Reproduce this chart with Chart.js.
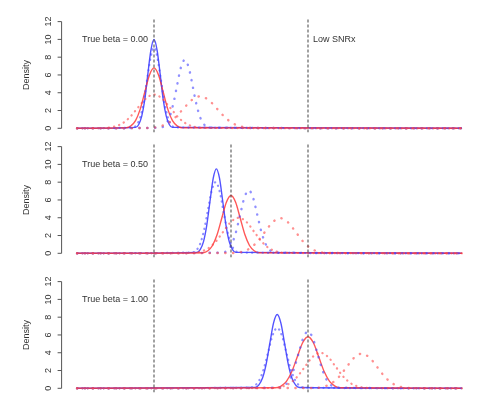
<!DOCTYPE html>
<html>
<head>
<meta charset="utf-8">
<script src="https://cdn.jsdelivr.net/npm/chart.js@4/dist/chart.umd.min.js"></script>
<style>
  html, body { margin: 0; padding: 0; background: #fff; }
  #wrap { position: relative; width: 500px; height: 406px; }
  canvas { position: absolute; left: 0; }
</style>
</head>
<body>
<div id="wrap">
  <canvas id="c1" width="500" height="135" style="top:0"></canvas>
  <canvas id="c2" width="500" height="135" style="top:135px"></canvas>
  <canvas id="c3" width="500" height="136" style="top:270px"></canvas>
</div>
<script>
/* three stacked density panels, R-style */

const yTicks = [0, 2, 4, 6, 8, 10, 12];
const panelLabels = ['True beta = 0.00', 'True beta = 0.50', 'True beta = 1.00'];
const refLines = [[0, 1], [0, 0.5, 1], [0, 1]];
const noteText = 'Low SNRx';
const yTitle = 'Density';

// panel 1 (true beta = 0)
const p1BlueSolid = [[-0.5,0],[-0.12,0.1],[-0.1,0.4],[-0.08,1.35],[-0.06,3.2],[-0.04,6.1],[-0.02,8.8],[0,10],[0.02,8.8],[0.04,6.1],[0.06,3.2],[0.08,1.35],[0.1,0.4],[0.12,0.1],[2,0]];
const p1BlueDash = [[-0.5,0],[-0.135,0.1],[-0.11,0.45],[-0.09,1.22],[-0.07,2.68],[-0.045,5.46],[-0.02,8.15],[0,9.1],[0.02,8.15],[0.045,5.46],[0.07,2.68],[0.09,1.22],[0.11,0.45],[0.135,0.1],[2,0]];
const p1BlueDot = [[-0.5,0],[0.04,0.07],[0.07,0.34],[0.1,1.22],[0.13,3.11],[0.15,4.85],[0.175,6.86],[0.2,7.7],[0.225,6.86],[0.25,4.85],[0.27,3.11],[0.3,1.22],[0.33,0.34],[0.36,0.07],[2,0]];
const p1RedSolid = [[-0.5,0],[-0.18,0.06],[-0.15,0.27],[-0.12,0.86],[-0.09,2.13],[-0.06,4.05],[-0.03,5.98],[0,6.8],[0.03,5.98],[0.06,4.05],[0.09,2.13],[0.12,0.86],[0.15,0.27],[0.18,0.06],[2,0]];
const p1RedDash = [[-0.5,0],[-0.32,0.04],[-0.26,0.18],[-0.21,0.51],[-0.16,1.19],[-0.105,2.31],[-0.05,3.39],[0,3.8],[0.05,3.39],[0.105,2.31],[0.16,1.19],[0.21,0.51],[0.26,0.18],[0.32,0.04],[2,0]];
const p1RedDot = [[-0.5,0],[-0.03,0.04],[0.025,0.16],[0.08,0.49],[0.135,1.17],[0.19,2.18],[0.245,3.18],[0.3,3.6],[0.355,3.18],[0.41,2.18],[0.465,1.17],[0.52,0.49],[0.575,0.16],[0.63,0.04],[2,0]];

// panel 2 (true beta = 0.5)
const p2BlueSolid = [[-0.5,0],[0.279,0.1],[0.3,0.42],[0.321,1.29],[0.342,3.09],[0.363,5.77],[0.385,8.48],[0.405,9.5],[0.425,8.48],[0.447,5.77],[0.468,3.09],[0.489,1.29],[0.51,0.42],[0.531,0.1],[2,0]];
const p2BlueDash = [[-0.5,0],[0.25,0.09],[0.275,0.35],[0.3,1.08],[0.325,2.6],[0.35,4.85],[0.375,7.06],[0.4,8.0],[0.425,7.06],[0.45,4.85],[0.475,2.6],[0.5,1.08],[0.525,0.35],[0.55,0.09],[2,0]];
const p2BlueDot = [[-0.5,0],[0.447,0.08],[0.475,0.31],[0.503,0.96],[0.531,2.31],[0.559,4.31],[0.587,6.27],[0.615,7.1],[0.643,6.27],[0.671,4.31],[0.699,2.31],[0.727,0.96],[0.755,0.31],[0.783,0.08],[2,0]];
const p2RedSolid = [[-0.5,0],[0.32,0.07],[0.35,0.29],[0.38,0.88],[0.41,2.11],[0.44,3.94],[0.47,5.74],[0.5,6.5],[0.53,5.74],[0.56,3.94],[0.59,2.11],[0.62,0.88],[0.65,0.29],[0.68,0.07],[2,0]];
const p2RedDash = [[-0.5,0],[0.25,0.04],[0.3,0.18],[0.35,0.54],[0.4,1.3],[0.45,2.43],[0.5,3.53],[0.55,4.0],[0.6,3.53],[0.65,2.43],[0.7,1.3],[0.75,0.54],[0.8,0.18],[0.85,0.04],[2,0]];
const p2RedDot = [[-0.5,0],[0.52,0.04],[0.57,0.17],[0.62,0.53],[0.67,1.28],[0.72,2.4],[0.77,3.49],[0.82,3.95],[0.87,3.49],[0.92,2.4],[0.97,1.28],[1.02,0.53],[1.07,0.17],[1.12,0.04],[2,0]];

// panel 3 (true beta = 1)
const p3BlueSolid = [[-0.5,0],[0.656,0.09],[0.68,0.36],[0.704,1.12],[0.728,2.7],[0.752,5.04],[0.776,7.33],[0.8,8.3],[0.824,7.33],[0.848,5.04],[0.872,2.7],[0.896,1.12],[0.92,0.36],[0.944,0.09],[2,0]];
const p3BlueDash = [[-0.5,0],[0.626,0.075],[0.655,0.3],[0.684,0.92],[0.713,2.21],[0.742,4.13],[0.771,6.0],[0.8,6.8],[0.829,6.0],[0.858,4.13],[0.887,2.21],[0.916,0.92],[0.945,0.3],[0.974,0.075],[2,0]];
const p3BlueDot = [[-0.5,0],[0.814,0.07],[0.845,0.28],[0.876,0.86],[0.907,2.08],[0.938,3.88],[0.969,5.65],[1,6.4],[1.031,5.65],[1.062,3.88],[1.093,2.08],[1.124,0.86],[1.155,0.28],[1.186,0.07],[2,0]];
const p3RedSolid = [[-0.5,0],[0.79,0.06],[0.825,0.25],[0.86,0.78],[0.895,1.88],[0.93,3.52],[0.965,5.12],[1,5.8],[1.035,5.12],[1.07,3.52],[1.105,1.88],[1.14,0.78],[1.175,0.25],[1.21,0.06],[2,0]];
const p3RedDash = [[-0.5,0],[0.78,0.04],[0.83,0.18],[0.88,0.54],[0.93,1.3],[0.98,2.43],[1.03,3.53],[1.08,4.0],[1.13,3.53],[1.18,2.43],[1.23,1.3],[1.28,0.54],[1.33,0.18],[1.38,0.04],[2,0]];
const p3RedDot = [[-0.5,0],[1.05,0.04],[1.1,0.17],[1.15,0.53],[1.2,1.27],[1.25,2.37],[1.3,3.44],[1.35,3.9],[1.4,3.44],[1.45,2.37],[1.5,1.27],[1.55,0.53],[1.6,0.17],[1.65,0.04],[2,0]];

const BLUE = 'rgba(40,40,255,0.8)';
const RED = 'rgba(255,45,45,0.8)';
const BLUE_LT = 'rgba(70,70,255,0.6)';
const RED_LT = 'rgba(255,70,70,0.6)';
const FONT = "'Liberation Sans', Arial, sans-serif";

const styles = {
  solid: { borderWidth: 1.4, borderDash: [] },
  dash:  { borderWidth: 2.2, borderDash: [0.3, 5], borderCapStyle: 'round' },
  dot:   { borderWidth: 2.4, borderDash: [0.3, 7.5], borderCapStyle: 'round' },
};

function curve(pts, color, kind) {
  return Object.assign({
    data: pts.map(p => ({ x: p[0], y: p[1] })),
    borderColor: color,
    pointRadius: 0,
    fill: false,
    cubicInterpolationMode: 'monotone',
  }, styles[kind]);
}

function vline(x) {
  return {
    data: [{ x: x, y: -0.48 }, { x: x, y: 12.3 }],
    borderColor: 'rgba(70,70,70,0.85)',
    borderWidth: 1.2,
    borderDash: [3, 2],
    pointRadius: 0,
  };
}

// R-like left axis + panel text
const rAxis = {
  id: 'rAxis',
  afterDraw(chart, args, o) {
    const { ctx, chartArea } = chart;
    const xs = chart.scales.x, ys = chart.scales.y;
    const left = chartArea.left;
    ctx.save();
    ctx.strokeStyle = '#555';
    ctx.lineWidth = 1;
    ctx.beginPath();
    ctx.moveTo(left, ys.getPixelForValue(yTicks[0]));
    ctx.lineTo(left, ys.getPixelForValue(yTicks[yTicks.length - 1]));
    yTicks.forEach(t => {
      const py = ys.getPixelForValue(t);
      ctx.moveTo(left - 4, py);
      ctx.lineTo(left, py);
    });
    ctx.stroke();

    ctx.fillStyle = '#333';
    ctx.font = '9px ' + FONT;
    ctx.textAlign = 'center';
    ctx.textBaseline = 'middle';
    yTicks.forEach(t => {
      ctx.save();
      ctx.translate(left - 13.5, ys.getPixelForValue(t));
      ctx.rotate(-Math.PI / 2);
      ctx.fillText(String(t), 0, 0);
      ctx.restore();
    });
    ctx.save();
    ctx.translate(left - 35, (chartArea.top + chartArea.bottom) / 2);
    ctx.rotate(-Math.PI / 2);
    ctx.fillText(yTitle, 0, 0);
    ctx.restore();

    ctx.textAlign = 'right';
    ctx.fillText(o.label, xs.getPixelForValue(0) - 6, ys.getPixelForValue(10));
    if (o.note) {
      ctx.textAlign = 'left';
      ctx.fillText(o.note, xs.getPixelForValue(1) + 5, ys.getPixelForValue(10));
    }
    ctx.restore();
  }
};

function makePanel(id, curves, lines, label, note, pad) {
  const datasets = lines.map(vline).concat(curves);
  return new Chart(document.getElementById(id), {
    type: 'line',
    data: { datasets },
    options: {
      responsive: false,
      animation: false,
      layout: { padding: pad },
      plugins: { legend: { display: false }, tooltip: { enabled: false }, rAxis: { label, note } },
      scales: {
        x: { type: 'linear', min: -0.6, max: 2.1, display: false },
        y: { type: 'linear', min: -0.48, max: 12.48, display: false },
      },
    },
    plugins: [rAxis],
  });
}

function panelCurves(bs, bd, bt, rs, rd, rt) {
  return [
    curve(rd, RED_LT, 'dash'), curve(rt, RED_LT, 'dot'),
    curve(bt, BLUE_LT, 'dot'), curve(bd, BLUE_LT, 'dash'),
    curve(rs, RED, 'solid'), curve(bs, BLUE, 'solid'),
  ];
}

makePanel('c1', panelCurves(p1BlueSolid, p1BlueDash, p1BlueDot, p1RedSolid, p1RedDash, p1RedDot),
  refLines[0], panelLabels[0], noteText, { left: 61.6, right: 22.6, top: 17.35, bottom: 2.43 });
makePanel('c2', panelCurves(p2BlueSolid, p2BlueDash, p2BlueDot, p2RedSolid, p2RedDash, p2RedDot),
  refLines[1], panelLabels[1], null, { left: 61.6, right: 22.6, top: 7.35, bottom: 12.43 });
makePanel('c3', panelCurves(p3BlueSolid, p3BlueDash, p3BlueDot, p3RedSolid, p3RedDash, p3RedDot),
  refLines[2], panelLabels[2], null, { left: 61.6, right: 22.6, top: 7.35, bottom: 13.43 });
</script>
</body>
</html>
